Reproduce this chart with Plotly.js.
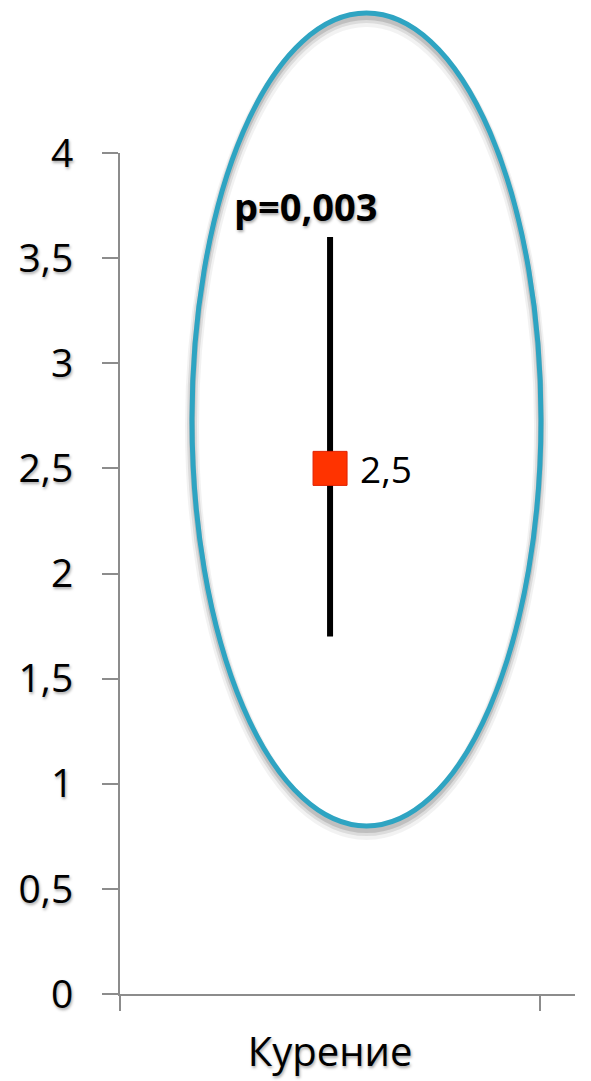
<!DOCTYPE html>
<html><head><meta charset="utf-8">
<script src="https://cdn.plot.ly/plotly-3.0.1.min.js"></script>
<style>body{margin:0;background:#fff}</style>
</head><body><div id="chart" style="width:591px;height:1081px"></div>
<script>
const categories = ["Курение"];
const meanValues = [2.5];
const lowerValues = [1.7];
const upperValues = [3.6];
const meanLabels = ["2,5"];
const pLabel = "p=0,003";
const yTicks = [0, 0.5, 1, 1.5, 2, 2.5, 3, 3.5, 4];
const yTickText = ["0", "0,5", "1", "1,5", "2", "2,5", "3", "3,5", "4"];

const FONT = "Open Sans, Noto Sans, sans-serif";
const SH = "1px 2px 3px rgba(0,0,0,0.35)";

const traces = [{
  type: 'scatter', mode: 'markers',
  x: categories, y: meanValues,
  error_y: {type: 'data', symmetric: false,
    array: meanValues.map((m,i)=>upperValues[i]-m),
    arrayminus: meanValues.map((m,i)=>m-lowerValues[i]),
    color: '#000', thickness: 6, width: 0},
  marker: {symbol: 'square', size: 34, color: '#ff3300', line: {color: '#e02000', width: 1}},
  hoverinfo: 'skip', showlegend: false
}];

const annotations = [];
categories.forEach((c,i)=>{
  annotations.push({x: c, y: meanValues[i], xref: 'x', yref: 'y', text: meanLabels[i],
    showarrow: false, xanchor: 'left', yanchor: 'middle', xshift: 28, yshift: 0,
    font: {family: FONT, size: 37, color: '#000'}});
  annotations.push({x: c, y: upperValues[i], xref: 'x', yref: 'y', text: '<b>'+pLabel+'</b>',
    showarrow: false, xanchor: 'center', yanchor: 'middle', xshift: -24, yshift: 31,
    font: {family: FONT, size: 38, color: '#000', shadow: SH}});
});

// ellipse in paper coords (plot area x:120..575, y:153..994)
const W = 455, H = 841;
const px = v => (v-120)/W, py = v => (994-v)/H;
const shapes = [];
// soft shadow, offset downward
[[7,14,0.05],[5,10,0.09],[4,6,0.13]].forEach(([o,w,a])=>{
  shapes.push({type:'circle', xref:'paper', yref:'paper', layer:'below',
    x0:px(192), x1:px(541), y0:py(826+o), y1:py(13+o),
    line:{color:'rgba(0,0,0,'+a+')', width:w}, fillcolor:'rgba(0,0,0,0)'});
});
shapes.push({type:'circle', xref:'paper', yref:'paper', layer:'above',
  x0:px(192), x1:px(541), y0:py(826), y1:py(13),
  line:{color:'#2ea4c2', width:5}, fillcolor:'rgba(0,0,0,0)'});
// extension of x axis line to the left of y axis
shapes.push({type:'line', xref:'paper', yref:'paper', x0:px(103), x1:0, y0:0, y1:0,
  line:{color:'#8c8c8c', width:2}});

const layout = {
  width: 591, height: 1081,
  margin: {l: 120, r: 16, t: 153, b: 87},
  paper_bgcolor: '#fff', plot_bgcolor: '#fff',
  separators: ', ',
  xaxis: {type: 'category', range: [-0.5, 0.583], showgrid: false, zeroline: false,
    showline: true, linecolor: '#8c8c8c', linewidth: 2,
    ticks: 'outside', tickson: 'boundaries', ticklen: 15, tickwidth: 2, tickcolor: '#8c8c8c',
    tickfont: {family: FONT, size: 40, color: '#000', shadow: SH}, ticklabelstandoff: 22},
  yaxis: {range: [0, 4], tickvals: yTicks, ticktext: yTickText, showgrid: false, zeroline: false,
    showline: true, linecolor: '#8c8c8c', linewidth: 2,
    ticks: 'outside', ticklen: 16, tickwidth: 2, tickcolor: '#8c8c8c',
    tickfont: {family: FONT, size: 39, color: '#000', shadow: SH}, ticklabelstandoff: 21},
  shapes: shapes,
  annotations: annotations,
  showlegend: false
};
Plotly.newPlot('chart', traces, layout, {displayModeBar: false, staticPlot: true});
</script></body></html>
